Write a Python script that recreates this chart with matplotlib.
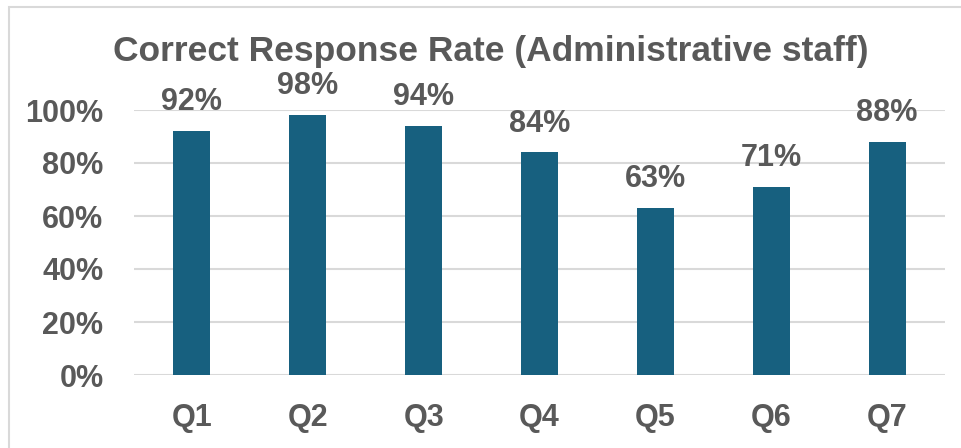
import matplotlib
matplotlib.use('Agg')
import matplotlib.pyplot as plt
from matplotlib.patches import Rectangle

# --- data ---
questions = ["Q1", "Q2", "Q3", "Q4", "Q5", "Q6", "Q7"]
rates = [0.92, 0.98, 0.94, 0.84, 0.63, 0.71, 0.88]
y_ticks = [0, 0.2, 0.4, 0.6, 0.8, 1.0]
title = "Correct Response Rate (Administrative staff)"

BAR = "#17607F"
TXT = "#595959"
GRID = "#D9D9D9"

plt.rcParams['font.family'] = ['Liberation Sans', 'DejaVu Sans']

W, H = 961, 448
fig = plt.figure(figsize=(W / 100, H / 100), dpi=100)

# chart border (cut off at right and bottom like the reference)
fig.patches.append(Rectangle((9 / W, -0.1), 1.2, 1 - 7 / H + 0.1,
                             transform=fig.transFigure, fill=False,
                             edgecolor=GRID, linewidth=1.5))

ax = fig.add_axes([134 / W, (H - 375) / H, 811 / W, 265 / H])
x = range(len(questions))
ax.bar(x, rates, width=0.32, color=BAR, zorder=3)
ax.set_xlim(-0.5, len(questions) - 0.5)
ax.set_ylim(0, 1.0)

ax.set_yticks(y_ticks)
ax.set_yticklabels([f"{int(round(t * 100))}%" for t in y_ticks])
ax.set_xticks(list(x))
ax.set_xticklabels(questions)
ax.tick_params(axis='y', length=0, pad=22, labelsize=22, labelcolor=TXT)
ax.tick_params(axis='x', length=0, pad=20, labelsize=22, labelcolor=TXT)
for lbl in ax.get_xticklabels() + ax.get_yticklabels():
    lbl.set_fontweight('bold')

ax.grid(axis='y', color=GRID, linewidth=1.5, zorder=0)
for s in ax.spines.values():
    s.set_visible(False)

for xi, r in zip(x, rates):
    ax.annotate(f"{int(round(r * 100))}%", (xi, r), xytext=(0, 10),
                textcoords='offset points', ha='center', va='bottom',
                fontsize=22, fontweight='bold', color=TXT, clip_on=False)

fig.text(491 / W, 1 - 51 / H, title, ha='center', va='center',
         fontsize=25.5, fontweight='bold', color=TXT)

fig.savefig("out.png", dpi=100)
